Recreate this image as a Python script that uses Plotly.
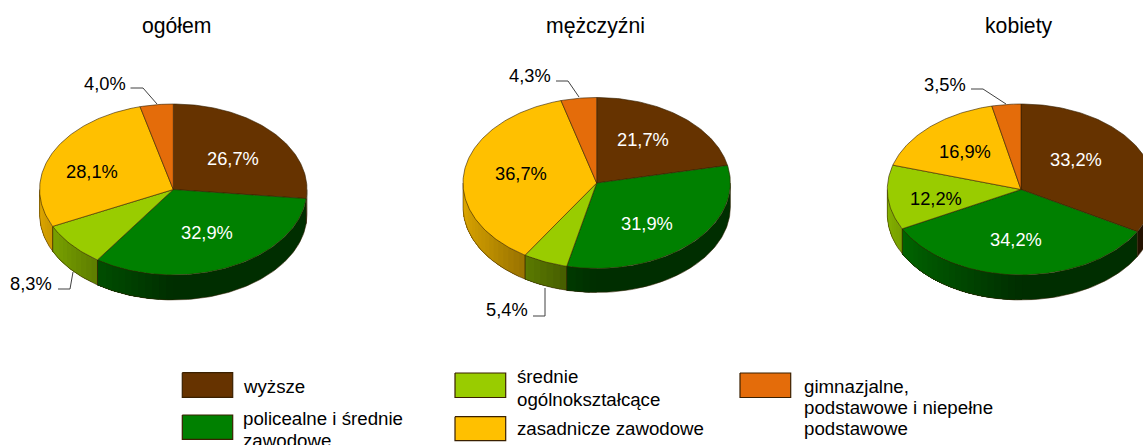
import numpy as np
import plotly.graph_objects as go

# ---- data ----
categories = ["wyższe", "policealne i średnie zawodowe", "średnie ogólnokształcące",
              "zasadnicze zawodowe", "gimnazjalne, podstawowe i niepełne podstawowe"]
titles = ["ogółem", "mężczyźni", "kobiety"]
ogolem = [26.7, 32.9, 8.3, 28.1, 4.0]
mezczyzni = [21.7, 31.9, 5.4, 36.7, 4.3]
kobiety = [33.2, 34.2, 12.2, 16.9, 3.5]

# ---- style / layout ----
colors = ["#663300", "#008000", "#99CC00", "#FFC000", "#E46C0A"]
W, H = 1143, 445
FONT = "Liberation Sans, Arial, sans-serif"
LABEL_SIZE = 18.3
LEGEND_SIZE = 18.7
TITLE_SIZE = 21.2
RX, RY = 133.7, 85.5
PIES = [
    dict(values=ogolem, cx=173.3, cy=189.5, depth=25, title_xy=(177, 25.5),
         label_xy=[(233, 158), (207, 232), (31, 283), (92, 171), (105, 83)],
         leaders={2: [(58, 289), (70, 289), (73, 272)], 4: [(130.5, 88), (143, 88), (157, 104)]}),
    dict(values=mezczyzni, cx=596.7, cy=183, depth=24, title_xy=(595, 25.5),
         label_xy=[(643, 139), (647, 223), (507, 309), (521, 173), (530, 75)],
         leaders={2: [(533, 316), (545, 316), (545, 288)], 4: [(556, 81), (568, 81), (579, 97)]}),
    dict(values=kobiety, cx=1021, cy=189.5, depth=25, title_xy=(1019, 25.5),
         label_xy=[(1076, 159), (1016, 239), (936, 198), (965, 151), (945, 84)],
         leaders={4: [(971, 89), (983, 89), (1006, 104)]}),
]
LEGEND = [
    (0, (182.3, 372.7, 232.7, 397.3), 241, [("wyższe", 386)]),
    (1, (182.3, 415, 232.7, 439.3), 241, [("policealne i średnie", 418), ("zawodowe", 440)]),
    (2, (455, 373, 505.7, 397.5), 515, [("średnie", 376), ("ogólnokształcące", 399)]),
    (3, (455, 416.7, 505.7, 440.7), 515, [("zasadnicze zawodowe", 428)]),
    (4, (740, 373, 790.7, 397.5), 802, [("gimnazjalne,", 386), ("podstawowe i niepełne", 407), ("podstawowe", 428)]),
]
EDGE = "rgba(50,30,0,0.75)"


def shade(hex_color, t):
    f = np.interp(t, [90, 180, 205, 235, 270], [0.36, 0.36, 0.55, 0.75, 0.9])
    r, g, b = (int(hex_color[i:i + 2], 16) for i in (1, 3, 5))
    return f"rgb({int(r * f)},{int(g * f)},{int(b * f)})"


fig = go.Figure()


def poly(xs, ys, fill=None, lc="rgba(0,0,0,0)", lw=0.0):
    fig.add_trace(go.Scatter(x=xs, y=ys, mode="lines", line=dict(color=lc, width=lw),
                             fill="toself" if fill else None, fillcolor=fill,
                             hoverinfo="skip", showlegend=False))


annotations = []


def text(x, y, s, color="#000000", size=LABEL_SIZE, anchor="center"):
    annotations.append(dict(x=x, y=y, text=s, showarrow=False, xanchor=anchor, yanchor="middle",
                            xref="x", yref="y", font=dict(family=FONT, size=size, color=color)))


for pie in PIES:
    cx, cy, d = pie["cx"], pie["cy"], pie["depth"]
    ex = lambda t: cx + RX * np.sin(np.radians(t))
    ey = lambda t: cy - RY * np.cos(np.radians(t))
    edges = np.concatenate([[0], np.cumsum(pie["values"]) * 3.6])

    # side wall: each step repaints from its own angle to the slice's far end,
    # walking from the dark side towards the light side, so no seams show
    for i, col in enumerate(colors):
        a0, a1 = max(edges[i], 90), min(edges[i + 1], 270)
        if a1 <= a0:
            continue
        steps = np.append(np.arange(a0, a1, 3.0), a1)
        last = None
        for s0, s1 in zip(steps[:-1], steps[1:]):
            c = shade(col, (s0 + s1) / 2)
            if c == last:
                continue
            last = c
            ts = np.linspace(s0, a1, max(int(a1 - s0), 2) + 1)
            xs = np.concatenate([ex(ts), ex(ts[::-1])])
            ys = np.concatenate([ey(ts), ey(ts[::-1]) + d])
            poly(xs, ys, fill=c)
    # rim outline and slice joints on the wall
    ts = np.linspace(90, 270, 181)
    poly(ex(ts), ey(ts) + d, lc=EDGE, lw=0.7)
    for t in [90, 270]:
        poly([ex(t), ex(t)], [ey(t), ey(t) + d], lc=EDGE, lw=0.7)
    for t in edges:
        if 90 < t < 270:
            poly([ex(t), ex(t)], [ey(t), ey(t) + d], lc=EDGE, lw=1)

    # top face
    for i, col in enumerate(colors):
        ts = np.linspace(edges[i], edges[i + 1], max(int(edges[i + 1] - edges[i]), 2) + 1)
        xs = np.concatenate([[cx], ex(ts), [cx]])
        ys = np.concatenate([[cy], ey(ts), [cy]])
        poly(xs, ys, fill=col, lc=EDGE, lw=0.8)

    # leader lines and labels
    for i, pts in pie["leaders"].items():
        poly([p[0] for p in pts], [p[1] for p in pts], lc="#404040", lw=1)
    for i, (v, (lx, ly)) in enumerate(zip(pie["values"], pie["label_xy"])):
        outside = i in pie["leaders"]
        color = "#FFFFFF" if i < 2 and not outside else "#000000"
        text(lx, ly, f"{v:.1f}%".replace(".", ","), color=color)

for name, (tx, ty) in zip(titles, [p["title_xy"] for p in PIES]):
    text(tx, ty, name, size=TITLE_SIZE)

# legend
for i, (x0, y0, x1, y1), tx, lines in LEGEND:
    poly([x0, x1, x1, x0, x0], [y0, y0, y1, y1, y0], fill=colors[i], lc="#3a2000", lw=1.2)
    for s, y in lines:
        text(tx, y, s, size=LEGEND_SIZE, anchor="left")

fig.update_layout(
    width=W, height=H, margin=dict(l=0, r=0, t=0, b=0),
    paper_bgcolor="white", plot_bgcolor="white", showlegend=False,
    xaxis=dict(range=[0, W], visible=False, fixedrange=True),
    yaxis=dict(range=[H, 0], visible=False, fixedrange=True),
    annotations=annotations,
)
fig.write_html("out.html", config=dict(displayModeBar=False),
               post_script="document.body.style.margin='0';document.body.style.overflow='hidden';")
